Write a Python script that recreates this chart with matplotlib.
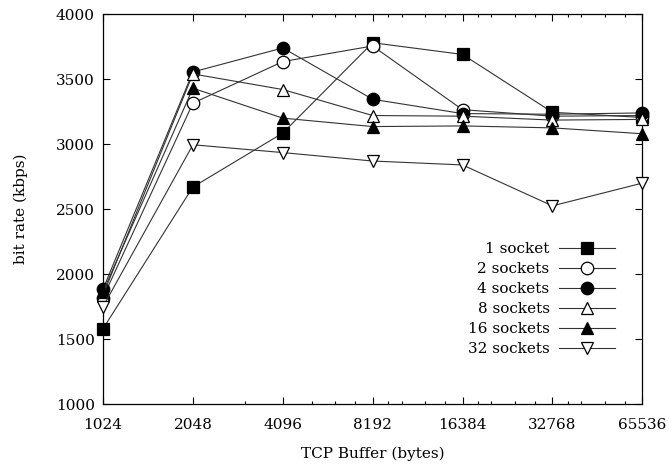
import matplotlib
matplotlib.use('Agg')
import matplotlib.pyplot as plt
import matplotlib.ticker as ticker

# TCP buffer sizes (bytes)
buffers = [1024, 2048, 4096, 8192, 16384, 32768, 65536]

# bit rate (kbps) per number of sockets
one_socket = [1580, 2670, 3085, 3780, 3690, 3245, 3205]
two_sockets = [1820, 3315, 3635, 3755, 3265, 3215, 3220]
four_sockets = [1885, 3555, 3740, 3345, 3235, 3230, 3240]
eight_sockets = [1840, 3540, 3420, 3220, 3215, 3185, 3190]
sixteen_sockets = [1865, 3430, 3200, 3135, 3140, 3125, 3080]
thirtytwo_sockets = [1750, 2995, 2935, 2870, 2840, 2525, 2700]

labels = ['1 socket', '2 sockets', '4 sockets', '8 sockets', '16 sockets', '32 sockets']
series = [one_socket, two_sockets, four_sockets, eight_sockets, sixteen_sockets, thirtytwo_sockets]
markers = ['s', 'o', 'o', '^', '^', 'v']
filled = [True, False, True, False, True, False]

minor_x = [3072, 5120, 6144, 7168, 9216, 10240, 12288, 14336,
           18432, 20480, 24576, 28672, 36864, 40960, 49152, 57344]

plt.rcParams['font.family'] = ['DejaVu Serif']
plt.rcParams['font.size'] = 11

fig = plt.figure(figsize=(6.69, 4.71), dpi=100)
ax = fig.add_axes([0.154, 0.142, 0.806, 0.828])

for i in range(len(series)):
    ax.plot(buffers, series[i], color='#333333', linewidth=0.8,
            marker=markers[i], markersize=9,
            markerfacecolor='black' if filled[i] else 'white',
            markeredgecolor='black', markeredgewidth=0.9,
            label=labels[i], clip_on=False, zorder=3)

ax.set_xscale('log', base=2)
ax.set_xlim(1024, 65536)
ax.set_ylim(1000, 4000)
ax.xaxis.set_major_locator(ticker.FixedLocator(buffers))
ax.xaxis.set_major_formatter(ticker.FixedFormatter([str(b) for b in buffers]))
ax.xaxis.set_minor_locator(ticker.FixedLocator(minor_x))
ax.xaxis.set_minor_formatter(ticker.NullFormatter())
ax.yaxis.set_major_locator(ticker.MultipleLocator(500))

ax.tick_params(which='both', direction='in', top=True, right=True, width=0.8)
ax.tick_params(which='major', length=5)
ax.tick_params(which='minor', length=2.5)
ax.tick_params(axis='x', pad=10)
ax.tick_params(axis='y', pad=6)
for s in ax.spines.values():
    s.set_linewidth(0.9)

ax.set_xlabel('TCP Buffer (bytes)')
ax.set_ylabel('bit rate (kbps)')
ax.xaxis.set_label_coords(0.5, -0.108)
ax.yaxis.set_label_coords(-0.139, 0.5)

ax.legend(loc='center right', bbox_to_anchor=(0.95, 0.269), frameon=False,
          markerfirst=False, handlelength=3.7, handletextpad=0.6,
          labelspacing=0.4, borderpad=0, borderaxespad=0)

fig.savefig('out.png', dpi=100)
